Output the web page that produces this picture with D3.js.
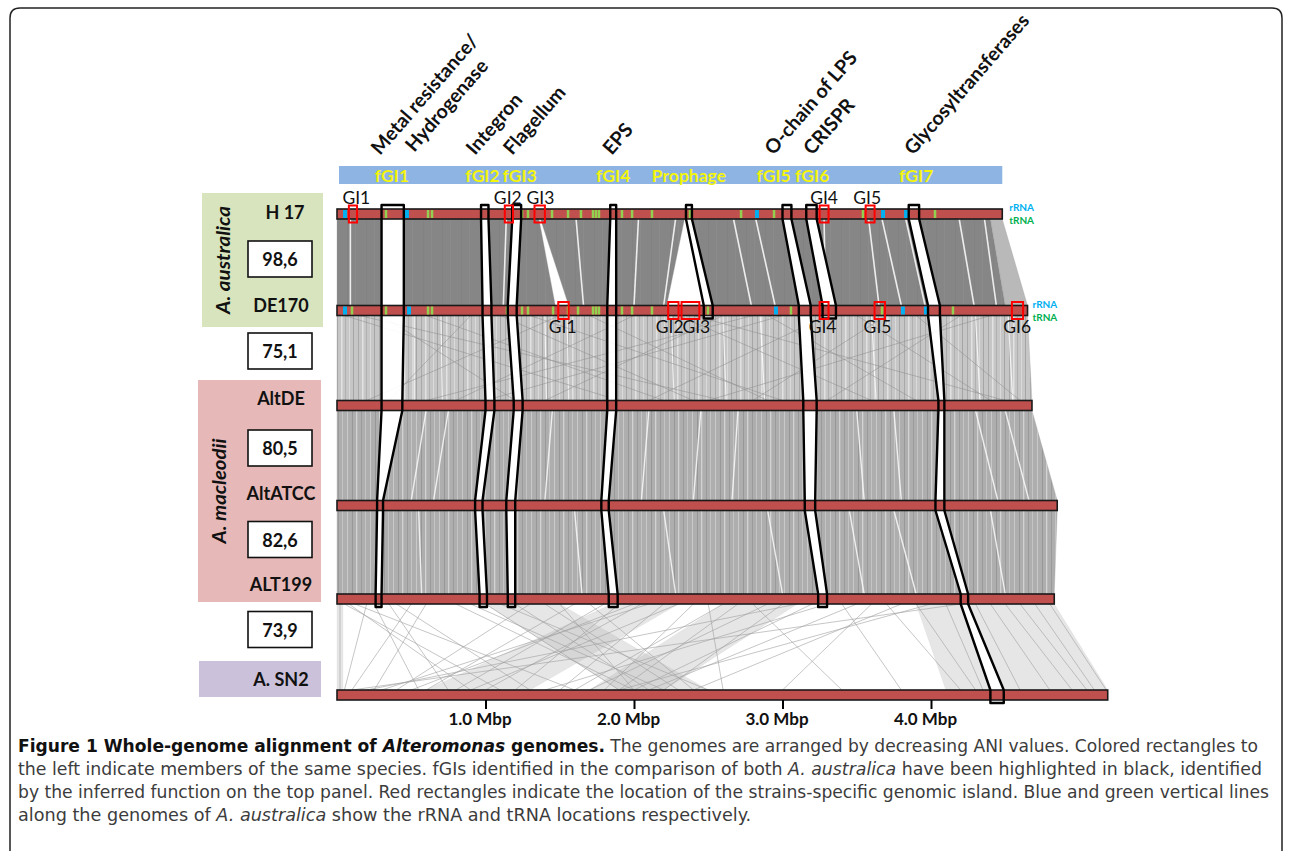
<!DOCTYPE html>
<html><head><meta charset="utf-8">
<script src="https://cdn.jsdelivr.net/npm/d3@7"></script>
<style>body{margin:0;background:#fff}svg{display:block}</style>
</head><body>
<svg id="chart" width="1292" height="851"></svg>
<script>
// ---------------- DATA ----------------
const genomes = ["H 17","DE170","AltDE","AltATCC","ALT199","A. SN2"];
const genomeLengthsMbp = [4.48,4.65,4.68,4.85,4.83,5.19];
const aniValues = ["98,6","75,1","80,5","82,6","73,9"];
const speciesNames = ["A. australica","A. macleodii"];
const axisTicksMbp = [1,2,3,4];

const fgiNames = ["fGI1","fGI2","fGI3","fGI4","Prophage","fGI5","fGI6","fGI7"];
const fgiLabelMbp = [0.37,0.98,1.23,1.86,2.37,2.94,3.20,3.90];
const functionNames = ["Metal resistance/","Hydrogenase","Integron","Flagellum","EPS","O-chain of LPS","CRISPR","Glycosyltransferases"];
const functionMbp = [0.29,0.52,0.93,1.18,1.85,2.94,3.20,3.88];

// highlighted fGI strips: [left,right] in Mbp for each genome, from H 17 downwards
const stripFGI1 = [[0.30,0.45],[0.30,0.45],[0.30,0.44],[0.27,0.31],[0.26,0.30]];
const stripFGI2 = [[0.97,1.02],[0.98,1.04],[1.00,1.06],[0.93,0.98],[0.96,1.01]];
const stripFGI3 = [[1.18,1.24],[1.15,1.21],[1.19,1.25],[1.14,1.20],[1.15,1.20]];
const stripFGI4 = [[1.84,1.88],[1.82,1.88],[1.82,1.88],[1.78,1.83],[1.83,1.89]];
const stripProphage = [[2.35,2.39],[2.47,2.53]];
const stripFGI5 = [[3.00,3.06],[3.11,3.19],[3.14,3.23],[3.15,3.22],[3.24,3.30]];
const stripFGI6 = [[3.16,3.23],[3.27,3.36]];
const stripFGI7 = [[3.85,3.92],[3.98,4.06],[4.05,4.09],[4.03,4.09],[4.20,4.25],[4.40,4.49]];

// strain-specific genomic islands [name, start, end, labelPos] (Mbp)
const giH17 = [["GI1",0.08,0.135,0.13],["GI2",1.13,1.185,1.15],["GI3",1.33,1.40,1.37],["GI4",3.25,3.31,3.28],["GI5",3.56,3.62,3.57]];
const giDE170 = [["GI1",1.49,1.56,1.52],["GI2",2.23,2.30,2.24],["GI3",2.32,2.44,2.42],["GI4",3.25,3.31,3.27],["GI5",3.62,3.69,3.64],["GI6",4.545,4.62,4.58]];

// rRNA / tRNA loci (Mbp)
const rrnaH17 = [0.054,0.471,2.828,3.677,3.832];
const rrnaDE170 = [0.054,0.485,2.956,3.811,3.966];
const trnaH17 = [0.33,0.613,0.64,1.246,1.286,1.448,1.556,1.643,1.724,1.744,1.764,1.919,1.987,2.121,2.377,2.721,2.943,3.542,4.027];
const trnaDE170 = [0.101,0.33,0.613,0.64,1.145,1.246,1.286,1.455,1.556,1.623,1.724,1.744,1.764,1.919,1.987,2.121,2.498,3.057,3.67,4.148];

// syntenic blocks between consecutive genomes [upStart, upEnd, downStart, downEnd] (Mbp)
const blocksH17_DE170 = [[0,0.30,0,0.30],[0.45,0.97,0.45,0.98],[1.02,1.18,1.04,1.15],[1.24,1.36,1.21,1.47],[1.37,1.84,1.56,1.82],[1.88,2.34,1.88,2.22],[2.39,3.00,2.53,3.11],[3.06,3.16,3.19,3.27],[3.23,3.85,3.36,3.98],[3.92,4.40,4.06,4.50]];
const blocksH17_DE170_light = [[4.40,4.48,4.50,4.65]];
const blocksDE170_AltDE = [[0,0.30,0,0.30],[0.45,0.98,0.44,1.00],[1.04,1.15,1.06,1.19],[1.21,1.82,1.25,1.82],[1.88,3.11,1.88,3.14],[3.19,3.98,3.23,4.05],[4.06,4.65,4.09,4.68]];
const blocksAltDE_AltATCC = [[0,0.30,0,0.27],[0.44,1.00,0.31,0.93],[1.06,1.19,0.98,1.14],[1.25,1.82,1.20,1.78],[1.88,3.14,1.83,3.15],[3.23,4.05,3.22,4.03],[4.09,4.68,4.09,4.85]];
const blocksAltATCC_ALT199 = [[0,0.27,0,0.26],[0.31,0.93,0.30,0.96],[0.98,1.14,1.01,1.15],[1.20,1.78,1.20,1.83],[1.83,3.15,1.89,3.24],[3.22,4.03,3.30,4.20],[4.09,4.85,4.25,4.83]];
const blocksALT199_SN2 = [[0,0.04,0,0.04],[4.25,4.83,4.50,5.19],[3.90,4.20,4.10,4.40],[1.85,2.30,0.60,1.30],[1.00,1.50,1.90,2.50],[2.60,3.10,1.70,2.20]];

// unaligned streaks (white) [up, down]
const gapsH17_DE170 = [[0.09,0.09],[1.14,1.12],[1.61,1.66],[2.03,2.00],[2.28,2.20],[2.67,2.79],[2.82,2.95],[3.28,3.29],[3.58,3.65],[3.67,3.80],[3.83,3.96],[4.19,4.29],[4.36,4.44]];
const gapsDE170_AltDE = [[0.52,0.52],[0.70,0.71],[1.40,1.41],[1.55,1.56],[2.25,2.27],[2.60,2.62],[2.85,2.88],[3.60,3.63],[4.30,4.33],[4.52,4.55]];
const gapsAltDE_AltATCC = [[0.60,0.50],[0.75,0.65],[1.45,1.40],[2.10,2.05],[2.45,2.40],[2.70,2.66],[3.50,3.55],[3.75,3.80],[4.30,4.45],[4.50,4.66]];
const gapsAltATCC_ALT199 = [[0.55,0.57],[1.60,1.65],[2.20,2.28],[2.90,3.00],[3.45,3.55],[3.75,3.90],[4.40,4.50]];

// rearranged matches [up, down]
const crossDE170_AltDE = [[0.05,1.9],[0.15,2.6],[0.6,2.2],[1.5,0.2],[1.3,3.0],[2.0,0.8],[2.3,3.6],[2.6,1.4],[2.9,3.9],[3.3,2.1],[3.5,4.4],[3.7,2.8],[4.2,3.3],[0.9,0.35],[1.7,2.9],[2.4,4.5],[4.4,2.5],[3.0,1.0],[0.3,1.2],[1.1,2.4],[3.9,4.6],[2.8,0.6]];
const crossALT199_SN2 = [[0.02,0.02],[0.05,1.1],[0.08,0.9],[0.12,1.6],[0.2,0.05],[0.25,0.55],[0.35,0.75],[0.4,1.3],[0.5,0.1],[0.6,0.25],
  [0.8,2.0],[0.9,2.2],[1.0,1.9],[1.1,2.5],[1.2,2.1],[1.3,0.4],[1.4,2.3],[1.5,2.0],[1.6,0.6],[1.7,2.4],
  [1.8,0.8],[1.9,1.2],[2.0,0.5],[2.05,1.0],[2.1,0.3],[2.2,1.5],[2.3,0.9],[2.4,1.8],[2.5,2.6],[2.6,1.6],
  [2.7,1.9],[2.8,3.4],[2.9,1.7],[3.0,2.2],[3.1,0.2],[3.2,2.0],[3.3,1.4],[3.4,3.8],[3.5,2.1],[3.6,3.0],
  [3.7,4.2],[3.8,2.4],[3.9,4.3],[4.0,1.9],[4.1,4.35],[4.2,0.1],[4.3,4.6],[4.4,4.8],[4.5,4.95],[4.6,5.05],[4.7,5.1],[4.8,5.18]];

// ---------------- DRAWING ----------------
const svg = d3.select("#chart");
const x = d3.scaleLinear().domain([0,5]).range([337, 337+148.5*5]);
const rowY = d3.scaleOrdinal().domain(genomes).range([214,310.5,405.5,505.5,599,695]);
const BAR_H = 10;
const yc = i => rowY(genomes[i]);
const FONT = "Lato, 'Open Sans', sans-serif";

// texture patterns for alignment fills (styling only)
const defs = svg.append("defs");
function texture(id, bg, stripes, w){
  const p = defs.append("pattern").attr("id",id).attr("patternUnits","userSpaceOnUse").attr("width",w).attr("height",8);
  p.append("rect").attr("width",w).attr("height",8).attr("fill",bg);
  stripes.forEach(([sx,sw,c])=>p.append("rect").attr("x",sx).attr("width",sw).attr("height",8).attr("fill",c));
}
texture("tex1","#868686",[[5,1,"#828282"],[13,1,"#8b8b8b"]],19);
texture("tex2","#c6c6c6",[[1,1,"#a9a9a9"],[5,1.5,"#e2e2e2"],[9,1,"#b0b0b0"],[13,1,"#dadada"],[17,1,"#a5a5a5"]],21);
texture("tex3","#aeaeae",[[2,1,"#c9c9c9"],[7,1,"#979797"],[11,1.3,"#d2d2d2"],[16,1,"#9a9a9a"],[20,1,"#c4c4c4"]],23);

// frame
svg.append("path").attr("d","M10,851 V18 Q10,8 20,8 H1272 Q1282,8 1282,18 V851")
  .attr("fill","none").attr("stroke","#222").attr("stroke-width",1.5);

// species panels
const panels = [
  {x:202,y:193,w:121,h:134,fill:"#d7e4bd"},
  {x:198,y:380,w:123,h:222,fill:"#e6b9b8"},
  {x:199,y:661,w:122,h:36,fill:"#ccc1da"}];
svg.selectAll("rect.panel").data(panels).join("rect").attr("class","panel")
  .attr("x",d=>d.x).attr("y",d=>d.y).attr("width",d=>d.w).attr("height",d=>d.h).attr("fill",d=>d.fill);

const speciesPos = [{x:222,y:260,len:108},{x:218,y:491,len:105}];
speciesNames.forEach((s,i)=>{
  svg.append("text").attr("transform",`translate(${speciesPos[i].x},${speciesPos[i].y}) rotate(-90)`)
    .attr("text-anchor","middle").attr("dominant-baseline","central")
    .attr("font-family",FONT).attr("font-weight","bold").attr("font-style","italic").attr("font-size",19)
    .attr("textLength",speciesPos[i].len).attr("lengthAdjust","spacingAndGlyphs").attr("fill","#111").text(s);
});

const labelY = [212,305,398,493,584,679];
svg.selectAll("text.glabel").data(genomes).join("text").attr("class","glabel")
  .attr("x",(d,i)=>i===0?285:281).attr("y",(d,i)=>labelY[i]).attr("text-anchor","middle")
  .attr("dominant-baseline","central").attr("font-family",FONT).attr("font-weight","bold")
  .attr("font-size",18).attr("fill","#111").text(d=>d);

const aniY = [259,351,448,539.5,629.5];
const ani = svg.selectAll("g.ani").data(aniValues).join("g").attr("class","ani")
  .attr("transform",(d,i)=>`translate(280,${aniY[i]})`);
ani.append("rect").attr("x",-32).attr("y",-18).attr("width",64).attr("height",36)
  .attr("fill","#fff").attr("stroke","#111").attr("stroke-width",1.6);
ani.append("text").attr("text-anchor","middle").attr("dominant-baseline","central")
  .attr("font-family",FONT).attr("font-weight","bold").attr("font-size",18).attr("fill","#111").text(d=>d);

// top band
svg.append("rect").attr("x",x(0)+2).attr("y",166).attr("width",x(genomeLengthsMbp[0])-x(0)-2).attr("height",18).attr("fill","#8db4e2");
svg.selectAll("text.fgi").data(fgiNames).join("text").attr("class","fgi")
  .attr("x",(d,i)=>x(fgiLabelMbp[i])).attr("y",182).attr("text-anchor","middle")
  .attr("font-family",FONT).attr("font-weight","bold").attr("font-size",17.5).attr("fill","#f4f40c").text(d=>d);

svg.selectAll("text.func").data(functionNames).join("text").attr("class","func")
  .attr("transform",(d,i)=>`translate(${x(functionMbp[i])},${i===1?153:156}) rotate(-49)`)
  .attr("font-family",FONT).attr("font-weight","bold").attr("font-size",19.5).attr("fill","#111").text(d=>d);

// alignments
const gAlign = svg.append("g");
function drawBlocks(blocks, i, fill, op){
  const yt = yc(i)+BAR_H/2, yb = yc(i+1)-BAR_H/2;
  gAlign.append("g").selectAll("path").data(blocks).join("path")
    .attr("d",b=>d3.line()([[x(b[0]),yt],[x(b[1]),yt],[x(b[3]),yb],[x(b[2]),yb]])+"Z")
    .attr("fill",fill).attr("fill-opacity",op).attr("stroke","#999").attr("stroke-opacity",op*0.5).attr("stroke-width",0.6);
}
function drawLines(lines, i, color, op, w){
  const yt = yc(i)+BAR_H/2, yb = yc(i+1)-BAR_H/2;
  gAlign.append("g").selectAll("line").data(lines).join("line")
    .attr("x1",d=>x(d[0])).attr("y1",yt).attr("x2",d=>x(d[1])).attr("y2",yb)
    .attr("stroke",color).attr("stroke-opacity",op).attr("stroke-width",w);
}
drawBlocks(blocksH17_DE170,0,"url(#tex1)",1);
drawBlocks(blocksH17_DE170_light,0,"#a8a8a8",0.8);
drawLines(gapsH17_DE170,0,"#fff",0.85,1.6);
drawBlocks(blocksDE170_AltDE,1,"url(#tex2)",1);
drawLines(gapsDE170_AltDE,1,"#fff",0.8,1.2);
drawLines(crossDE170_AltDE,1,"#8f8f8f",0.55,1);
drawBlocks(blocksAltDE_AltATCC,2,"url(#tex3)",1);
drawLines(gapsAltDE_AltATCC,2,"#fff",0.8,1.4);
drawBlocks(blocksAltATCC_ALT199,3,"url(#tex3)",1);
drawLines(gapsAltATCC_ALT199,3,"#fff",0.8,1.4);
drawBlocks(blocksALT199_SN2,4,"#b8b8b8",0.35);
drawLines(crossALT199_SN2,4,"#a0a0a0",0.6,1);

// fGI strips
const strips = [stripFGI1,stripFGI2,stripFGI3,stripFGI4,stripProphage,stripFGI5,stripFGI6,stripFGI7];
function stripPath(rows){
  const left=[], right=[];
  rows.forEach(([l,r],i)=>{
    const c=yc(i);
    const t = i===0 ? c-BAR_H/2-4 : c-BAR_H/2;
    const b = i===rows.length-1 ? c+BAR_H/2+3 : c+BAR_H/2;
    left.push([x(l),t],[x(l),b]); right.push([x(r),t],[x(r),b]);
  });
  return d3.line()(left.concat(right.reverse()))+"Z";
}
svg.append("g").selectAll("path").data(strips).join("path").attr("d",stripPath).attr("fill","#fff").attr("fill-opacity",0.92);

// genome bars
svg.append("g").selectAll("rect").data(genomes).join("rect")
  .attr("x",x(0)).attr("y",(d,i)=>yc(i)-BAR_H/2)
  .attr("width",(d,i)=>x(genomeLengthsMbp[i])-x(0)).attr("height",BAR_H)
  .attr("fill","#c0504d").attr("stroke","#1a1a1a").attr("stroke-width",1.6);

// rRNA / tRNA ticks
function drawMarks(pos,i,color,w){
  svg.append("g").selectAll("rect").data(pos).join("rect")
    .attr("x",d=>x(d)-w/2).attr("y",yc(i)-BAR_H/2+1).attr("width",w).attr("height",BAR_H-2).attr("fill",color);
}
drawMarks(trnaH17,0,"#92d050",2.5);
drawMarks(trnaDE170,1,"#92d050",2.5);
drawMarks(rrnaH17,0,"#00b0f0",4);
drawMarks(rrnaDE170,1,"#00b0f0",4);

// strip outlines
svg.append("g").selectAll("path").data(strips).join("path").attr("d",stripPath)
  .attr("fill","none").attr("stroke","#000").attr("stroke-width",2.4).attr("stroke-linejoin","round");

// GI boxes and labels
function drawGI(list,i,labelDy){
  const g = svg.append("g");
  g.selectAll("rect").data(list).join("rect")
    .attr("x",d=>x(d[1])).attr("y",yc(i)-8.5).attr("width",d=>x(d[2])-x(d[1])).attr("height",17)
    .attr("fill","none").attr("stroke","#ff0000").attr("stroke-width",2);
  g.selectAll("text").data(list).join("text")
    .attr("x",d=>x(d[3])).attr("y",yc(i)+labelDy).attr("text-anchor","middle").attr("dominant-baseline","central")
    .attr("font-family",FONT).attr("font-size",17.5).attr("fill","#111").text(d=>d[0]);
}
drawGI(giH17,0,-17);
drawGI(giDE170,1,16);

// rRNA / tRNA legends
[0,1].forEach(i=>{
  const xx = x(genomeLengthsMbp[i])+ (i===0?7:5);
  svg.append("text").attr("x",xx).attr("y",yc(i)-7).attr("dominant-baseline","central")
    .attr("font-family",FONT).attr("font-weight","bold").attr("font-size",10).attr("fill","#00b0f0").text("rRNA");
  svg.append("text").attr("x",xx).attr("y",yc(i)+6).attr("dominant-baseline","central")
    .attr("font-family",FONT).attr("font-weight","bold").attr("font-size",10).attr("fill","#00b050").text("tRNA");
});

// axis
const axis = d3.axisBottom(x).tickValues(axisTicksMbp).tickSize(9).tickPadding(4).tickFormat(d=>d.toFixed(1)+" Mbp");
const ga = svg.append("g").attr("transform",`translate(0,${yc(5)+BAR_H/2})`).call(axis);
ga.select(".domain").remove();
ga.selectAll(".tick line").attr("stroke","#000").attr("stroke-width",2);
ga.selectAll(".tick text").attr("font-family",FONT).attr("font-weight","bold").attr("font-size",17).attr("fill","#111").attr("dx",-6);

// caption
const CAP = "'Liberation Sans Narrow','DejaVu Sans Condensed',sans-serif";
const captionLines = [
  {y:752,len:1240,parts:[["Figure 1 Whole-genome alignment of ","b"],["Alteromonas","bi"],[" genomes.","b"],[" The genomes are arranged by decreasing ANI values. Colored rectangles to","r"]]},
  {y:775,len:1244,parts:[["the left indicate members of the same species. fGIs identified in the comparison of both ","r"],["A. australica","i"],[" have been highlighted in black, identified","r"]]},
  {y:798,len:1251,parts:[["by the inferred function on the top panel. Red rectangles indicate the location of the strains-specific genomic island. Blue and green vertical lines","r"]]},
  {y:821,len:733,parts:[["along the genomes of ","r"],["A. australica","i"],[" show the rRNA and tRNA locations respectively.","r"]]}];
captionLines.forEach(l=>{
  const t = svg.append("text").attr("x",18).attr("y",l.y).attr("font-family",CAP).attr("font-size",18)
    .attr("textLength",l.len).attr("lengthAdjust","spacingAndGlyphs").attr("xml:space","preserve");
  l.parts.forEach(([s,st])=>{
    t.append("tspan").text(s)
      .attr("font-weight",st.includes("b")?"bold":"normal")
      .attr("font-style",st.includes("i")?"italic":"normal")
      .attr("fill",st.includes("b")?"#111":"#3c3c3c");
  });
});
</script>
</body></html>
